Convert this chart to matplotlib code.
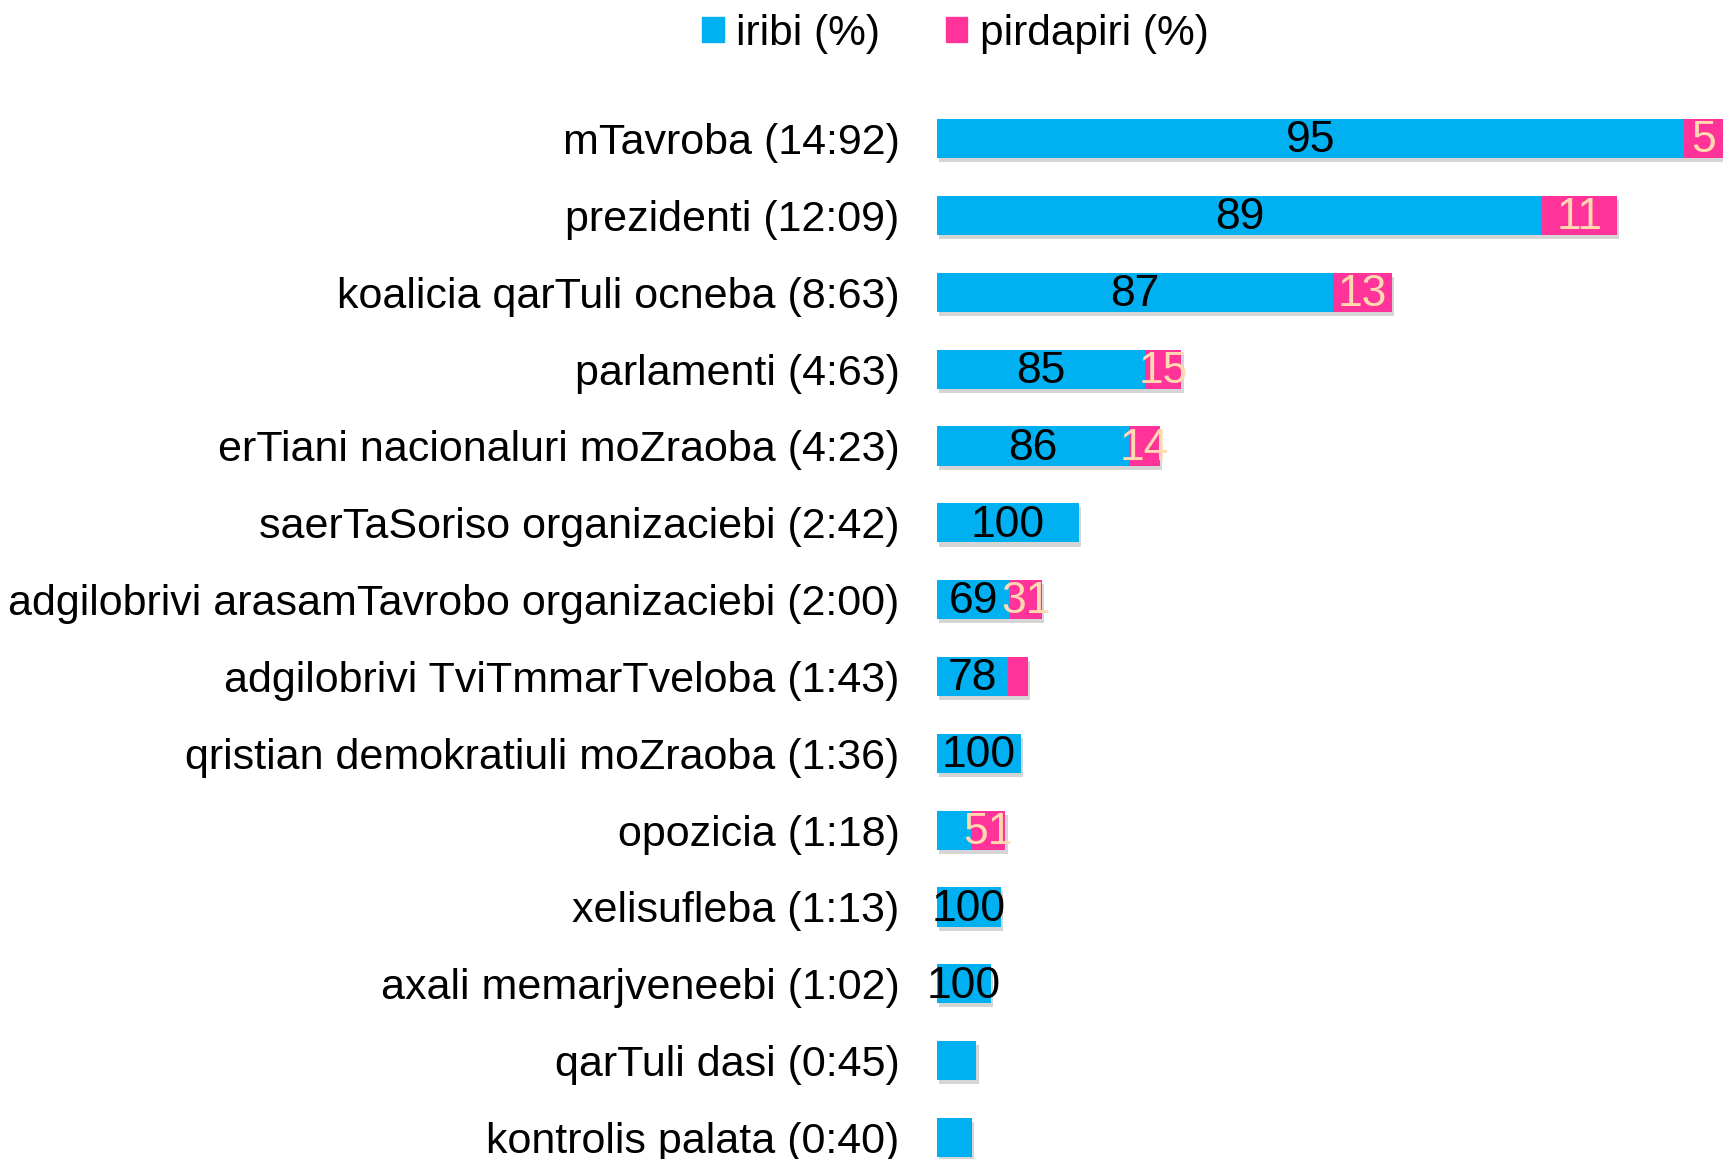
import matplotlib
matplotlib.use("Agg")
import matplotlib.pyplot as plt
import matplotlib.patheffects as pe
from matplotlib.patches import Patch
import numpy as np

plt.rcParams['font.family'] = ['Liberation Sans', 'DejaVu Sans']

# categories (top to bottom) and bar length (minutes)
categories = [
    "mTavroba (14:92)",
    "prezidenti (12:09)",
    "koalicia qarTuli ocneba (8:63)",
    "parlamenti (4:63)",
    "erTiani nacionaluri moZraoba (4:23)",
    "saerTaSoriso organizaciebi (2:42)",
    "adgilobrivi arasamTavrobo organizaciebi (2:00)",
    "adgilobrivi TviTmmarTveloba (1:43)",
    "qristian demokratiuli moZraoba (1:36)",
    "opozicia (1:18)",
    "xelisufleba (1:13)",
    "axali memarjveneebi (1:02)",
    "qarTuli dasi (0:45)",
    "kontrolis palata (0:40)",
]
durations = [14.92, 12.90, 8.63, 4.64, 4.24, 2.70, 2.00, 1.72, 1.60, 1.30, 1.22, 1.03, 0.75, 0.67]
iribi = [95, 89, 87, 85, 86, 100, 69, 78, 100, 49, 100, 100, 100, 96]
pirdapiri = [5, 11, 13, 15, 14, 0, 31, 22, 0, 51, 0, 0, 0, 4]
iribi_labels = ["95", "89", "87", "85", "86", "100", "69", "78", "100", "", "100", "100", "", ""]
pirdapiri_labels = ["5", "11", "13", "15", "14", "", "31", "", "", "51", "", "", "", ""]

blue = "#00B0F0"
pink = "#FF3399"

fig = plt.figure(figsize=(17.23, 11.59), dpi=100)
ax = fig.add_axes([0.5438, -0.0145, 0.4562, 0.928])

y = np.arange(len(categories))
dur = np.array(durations)
w1 = dur * np.array(iribi) / 100
w2 = dur * np.array(pirdapiri) / 100

shadow = [pe.SimplePatchShadow(offset=(1.5, -3), shadow_rgbFace="#777777", alpha=0.3), pe.Normal()]
b1 = ax.barh(y, w1, height=0.51, color=blue)
b2 = ax.barh(y, w2, left=w1, height=0.51, color=pink)
for bar in list(b1) + list(b2):
    bar.set_path_effects(shadow)

for i in range(len(categories)):
    if iribi_labels[i]:
        ax.text(w1[i] / 2, y[i] + 0.03, iribi_labels[i], ha="center", va="center",
                fontsize=32, color="black")
    if pirdapiri_labels[i]:
        ax.text(w1[i] + w2[i] / 2, y[i] + 0.03, pirdapiri_labels[i], ha="center", va="center",
                fontsize=32, color="#FFDAB0")

ax.set_xlim(0, 14.92)
ax.set_ylim(13.5, -0.5)
ax.set_yticks(y)
ax.set_yticklabels(categories, fontsize=31)
ax.tick_params(axis="y", length=0, pad=27)
ax.set_xticks([])
for s in ax.spines.values():
    s.set_visible(False)

handles = [Patch(color=blue, label="iribi (%)"), Patch(color=pink, label="pirdapiri (%)")]
fig.legend(handles=handles, loc="center", bbox_to_anchor=(0.5546, 0.971), ncol=2,
           frameon=False, fontsize=30.5, handlelength=0.5, handleheight=0.5,
           handletextpad=0.3, columnspacing=1.55)

fig.savefig("out.png", dpi=100)
